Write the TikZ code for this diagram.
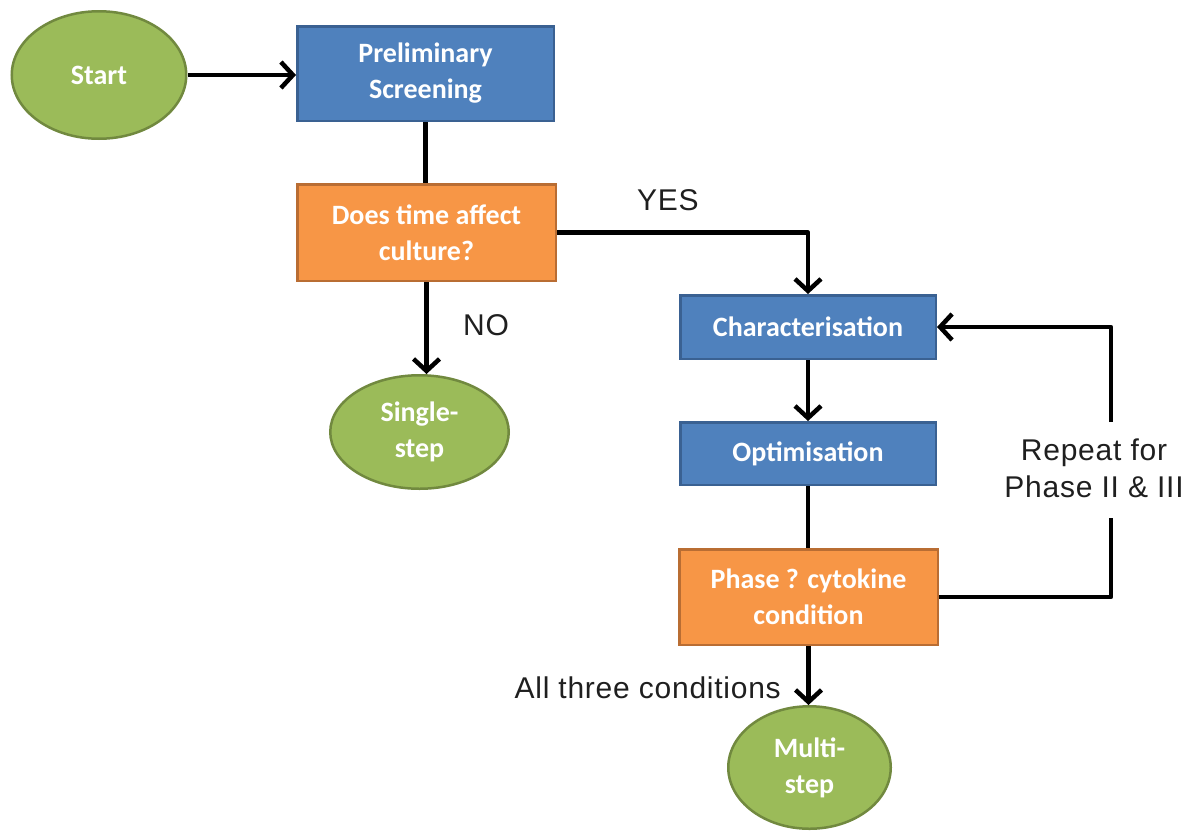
\documentclass[tikz,border=0pt]{standalone}
\usepackage{fontspec}
\newfontfamily\boxfont{Carlito}
\newfontfamily\labelfont[LetterSpace=2.5]{Liberation Sans}
\usetikzlibrary{shapes.geometric,arrows.meta}

\definecolor{bluefill}{HTML}{4F81BD}
\definecolor{blueline}{HTML}{3A6192}
\definecolor{orangefill}{HTML}{F79646}
\definecolor{orangeline}{HTML}{B96D33}
\definecolor{greenfill}{HTML}{9BBB59}
\definecolor{greenline}{HTML}{71893F}

\tikzset{
  shapebase/.style={font=\boxfont\bfseries\fontsize{28}{36}\selectfont,
    text=white, align=center, line width=2.5pt, inner sep=0pt},
  bluebox/.style={shapebase, rectangle, fill=bluefill, draw=blueline},
  orangebox/.style={shapebase, rectangle, fill=orangefill, draw=orangeline},
  terminal/.style={shapebase, ellipse, fill=greenfill, draw=greenline},
  link/.style={line width=4.5pt, draw=black, line join=round},
  arr/.style={link, -{Straight Barb[length=12pt,width=26pt]}},
  lbl/.style={font=\labelfont\fontsize{30}{37}\selectfont, inner sep=0pt,
    text=black!88, align=center}
}

\begin{document}
\begin{tikzpicture}[x=1pt,y=-1pt]
  \useasboundingbox (0,0) rectangle (1190,833);

  % process steps
  \node[terminal, minimum width=174.5pt, minimum height=127.5pt] (start) at (99,75) {Start};
  \node[bluebox, minimum width=256.5pt, minimum height=94.5pt] (prelim) at (425.5,73.5) {Preliminary\\Screening};
  \node[orangebox, minimum width=258.5pt, minimum height=96.5pt] (question) at (426.5,232.5) {Does time affect\\culture?};
  \node[terminal, minimum width=178.5pt, minimum height=113.5pt] (single) at (419.5,432) {Single-\\step};
  \node[bluebox, minimum width=255.5pt, minimum height=63.5pt] (charac) at (808,327) {Characterisation};
  \node[bluebox, minimum width=255.5pt, minimum height=62.5pt] (optim) at (808,453.5) {Optimisation};
  \node[orangebox, minimum width=258.5pt, minimum height=95.5pt] (phase) at (808.5,597) {Phase ? cytokine\\condition};
  \node[terminal, minimum width=162.5pt, minimum height=122.5pt] (multi) at (809.5,767.5) {Multi-\\step};

  % labels
  \node[lbl, anchor=base west] (yes) at (637,210) {YES};
  \node[lbl, anchor=base west] (no) at (463,335) {NO};
  \node[lbl, anchor=base east] (allthree) at (781,698) {All three conditions};
  \node[lbl] (repeat) at (1094,468) {Repeat for\\Phase II \& III};

  % loop-back path end points around the repeat label
  \coordinate (looplow) at (1111,518);
  \coordinate (loophigh) at (1111,422);

  % connectors
  \draw[arr] (start.east) -- (start.east -| prelim.west);
  \draw[link] (prelim.south) -- (prelim.south |- question.north);
  \draw[arr] (question.east) -| (charac.north);
  \draw[arr] (question.south) -- (question.south |- single.north);
  \draw[arr] (charac.south) -- (optim.north);
  \draw[link] (optim.south) -- (optim.south |- phase.north);
  \draw[arr] (phase.south) -- (phase.south |- multi.north);
  \draw[link] (phase.east) -| (looplow);
  \draw[arr] (loophigh) |- (charac.east);
\end{tikzpicture}
\end{document}
